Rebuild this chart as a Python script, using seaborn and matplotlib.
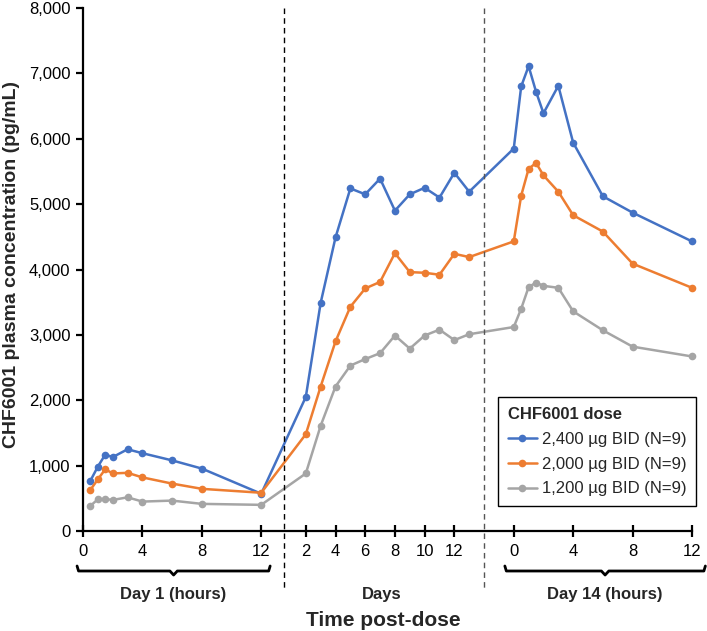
import pandas as pd
import matplotlib.pyplot as plt
import seaborn as sns
from matplotlib.lines import Line2D
from matplotlib.ticker import StrMethodFormatter
from matplotlib.transforms import blended_transform_factory

# time points
day1_hours = [0.5, 1, 1.5, 2, 3, 4, 6, 8, 12]
days = [2, 3, 4, 5, 6, 7, 8, 9, 10, 11, 12, 13]
day14_hours = [0, 0.5, 1, 1.5, 2, 3, 4, 6, 8, 12]

doses = ["2,400 µg BID (N=9)", "2,000 µg BID (N=9)", "1,200 µg BID (N=9)"]
colors = ["#4472C4", "#ED7D31", "#A5A5A5"]

# plasma concentration (pg/mL)
blue_d1 = [770, 985, 1170, 1130, 1250, 1190, 1080, 955, 570]
orange_d1 = [630, 790, 945, 880, 890, 820, 725, 645, 585]
gray_d1 = [385, 485, 490, 475, 515, 450, 465, 415, 400]

blue_days = [2050, 3490, 4490, 5240, 5150, 5390, 4900, 5150, 5250, 5100, 5480, 5190]
orange_days = [1480, 2210, 2900, 3430, 3710, 3810, 4250, 3960, 3950, 3920, 4240, 4190]
gray_days = [880, 1610, 2210, 2530, 2630, 2720, 2990, 2790, 2990, 3080, 2920, 3010]

blue_d14 = [5850, 6800, 7110, 6720, 6390, 6810, 5940, 5120, 4870, 4430]
orange_d14 = [4430, 5130, 5540, 5630, 5440, 5190, 4830, 4580, 4090, 3720]
gray_d14 = [3120, 3400, 3730, 3800, 3750, 3720, 3360, 3070, 2820, 2670]

day1_ticks = [0, 4, 8, 12]
days_ticks = [2, 4, 6, 8, 10, 12]
day14_ticks = [0, 4, 8, 12]

# the three time scales share one x axis
DAYS_OFFSET = 13
D14_OFFSET = 29

def positions():
    return ([h for h in day1_hours]
            + [d + DAYS_OFFSET for d in days]
            + [h + D14_OFFSET for h in day14_hours])

series = {
    doses[0]: blue_d1 + blue_days + blue_d14,
    doses[1]: orange_d1 + orange_days + orange_d14,
    doses[2]: gray_d1 + gray_days + gray_d14,
}
frames = []
for dose, vals in series.items():
    frames.append(pd.DataFrame({"pos": positions(), "conc": vals, "dose": dose}))
df = pd.concat(frames, ignore_index=True)

sns.set_style("white")
plt.rcParams["font.family"] = ["Liberation Sans", "DejaVu Sans"]

fig = plt.figure(figsize=(7.07, 6.31), dpi=100)
ax = fig.add_axes([83 / 707, 100 / 631, 609 / 707, 523 / 631])

sns.lineplot(data=df, x="pos", y="conc", hue="dose", hue_order=doses,
             palette=colors, marker="o", markersize=5.5, markeredgewidth=0,
             linewidth=1.8, legend=False, estimator=None, clip_on=False, ax=ax)

ax.set_xlim(0, D14_OFFSET + 12)
ax.set_ylim(0, 8000)
ax.set_yticks(range(0, 8001, 1000))
ax.yaxis.set_major_formatter(StrMethodFormatter("{x:,.0f}"))

xt = day1_ticks + [d + DAYS_OFFSET for d in days_ticks] + [h + D14_OFFSET for h in day14_ticks]
xl = [str(t) for t in day1_ticks + days_ticks + day14_ticks]
ax.set_xticks(xt)
ax.set_xticklabels(xl)

for s in ["top", "right"]:
    ax.spines[s].set_visible(False)
for s in ["left", "bottom"]:
    ax.spines[s].set_color("black")
    ax.spines[s].set_linewidth(1.6)

ax.tick_params(axis="x", direction="inout", length=9, width=1.6, pad=5,
               labelsize=12, colors="black", bottom=True)
ax.tick_params(axis="y", direction="out", length=5, width=1.6, pad=4,
               labelsize=12, colors="black", left=True)

ax.set_xlabel("")
ax.set_ylabel("CHF6001 plasma concentration (pg/mL)", fontsize=14,
              fontweight="bold")
ax.yaxis.set_label_coords(-0.103, 0.51)

# separators and brackets below the axis
tr = blended_transform_factory(ax.transData, fig.transFigure)
for x, c in [(13.5, "black"), (27, "#555555")]:
    ax.add_line(Line2D([x, x], [1 - 8 / 631, 1 - 591 / 631], transform=tr,
                       color=c, lw=1, ls=(0, (4, 3)), clip_on=False))

yb = 1 - 571 / 631
hook = 5 / 631
def bracket(x0, x1):
    xm = (x0 + x1) / 2
    xs = [x0, x0 + 0.1, xm - 0.25, xm, xm + 0.25, x1 - 0.1, x1]
    ys = [yb + hook, yb, yb, yb - hook * 0.8, yb, yb, yb + hook]
    ax.add_line(Line2D(xs, ys, transform=tr, color="black", lw=2,
                       solid_joinstyle="round", clip_on=False))

bracket(-0.4, 12.6)
bracket(D14_OFFSET - 0.6, D14_OFFSET + 12.9)

yl = 1 - 594 / 631
ax.text(6.1, yl, "Day 1 (hours)", transform=tr, ha="center", va="center",
        fontsize=12, fontweight="bold")
ax.text(20.1, yl, "Days", transform=tr, ha="center", va="center",
        fontsize=12, fontweight="bold")
ax.text(D14_OFFSET + 6.1, yl, "Day 14 (hours)", transform=tr, ha="center",
        va="center", fontsize=12, fontweight="bold")
ax.text(20.2, 1 - 620 / 631, "Time post-dose", transform=tr, ha="center",
        va="center", fontsize=15, fontweight="bold")

handles = [Line2D([], [], color=c, marker="o", lw=1.8, markersize=5.5,
                  markeredgewidth=0) for c in colors]
leg = ax.legend(handles, doses, title="CHF6001 dose", loc="lower right",
                bbox_to_anchor=(1.007, 0.047), borderaxespad=0,
                fontsize=12, title_fontproperties={"weight": "bold", "size": 12},
                alignment="left", frameon=True, fancybox=False, framealpha=1,
                edgecolor="black", handlelength=1.7, handletextpad=0.3,
                labelspacing=0.58, borderpad=0.6)
leg.get_frame().set_linewidth(1)

fig.savefig("out.png", dpi=100)
